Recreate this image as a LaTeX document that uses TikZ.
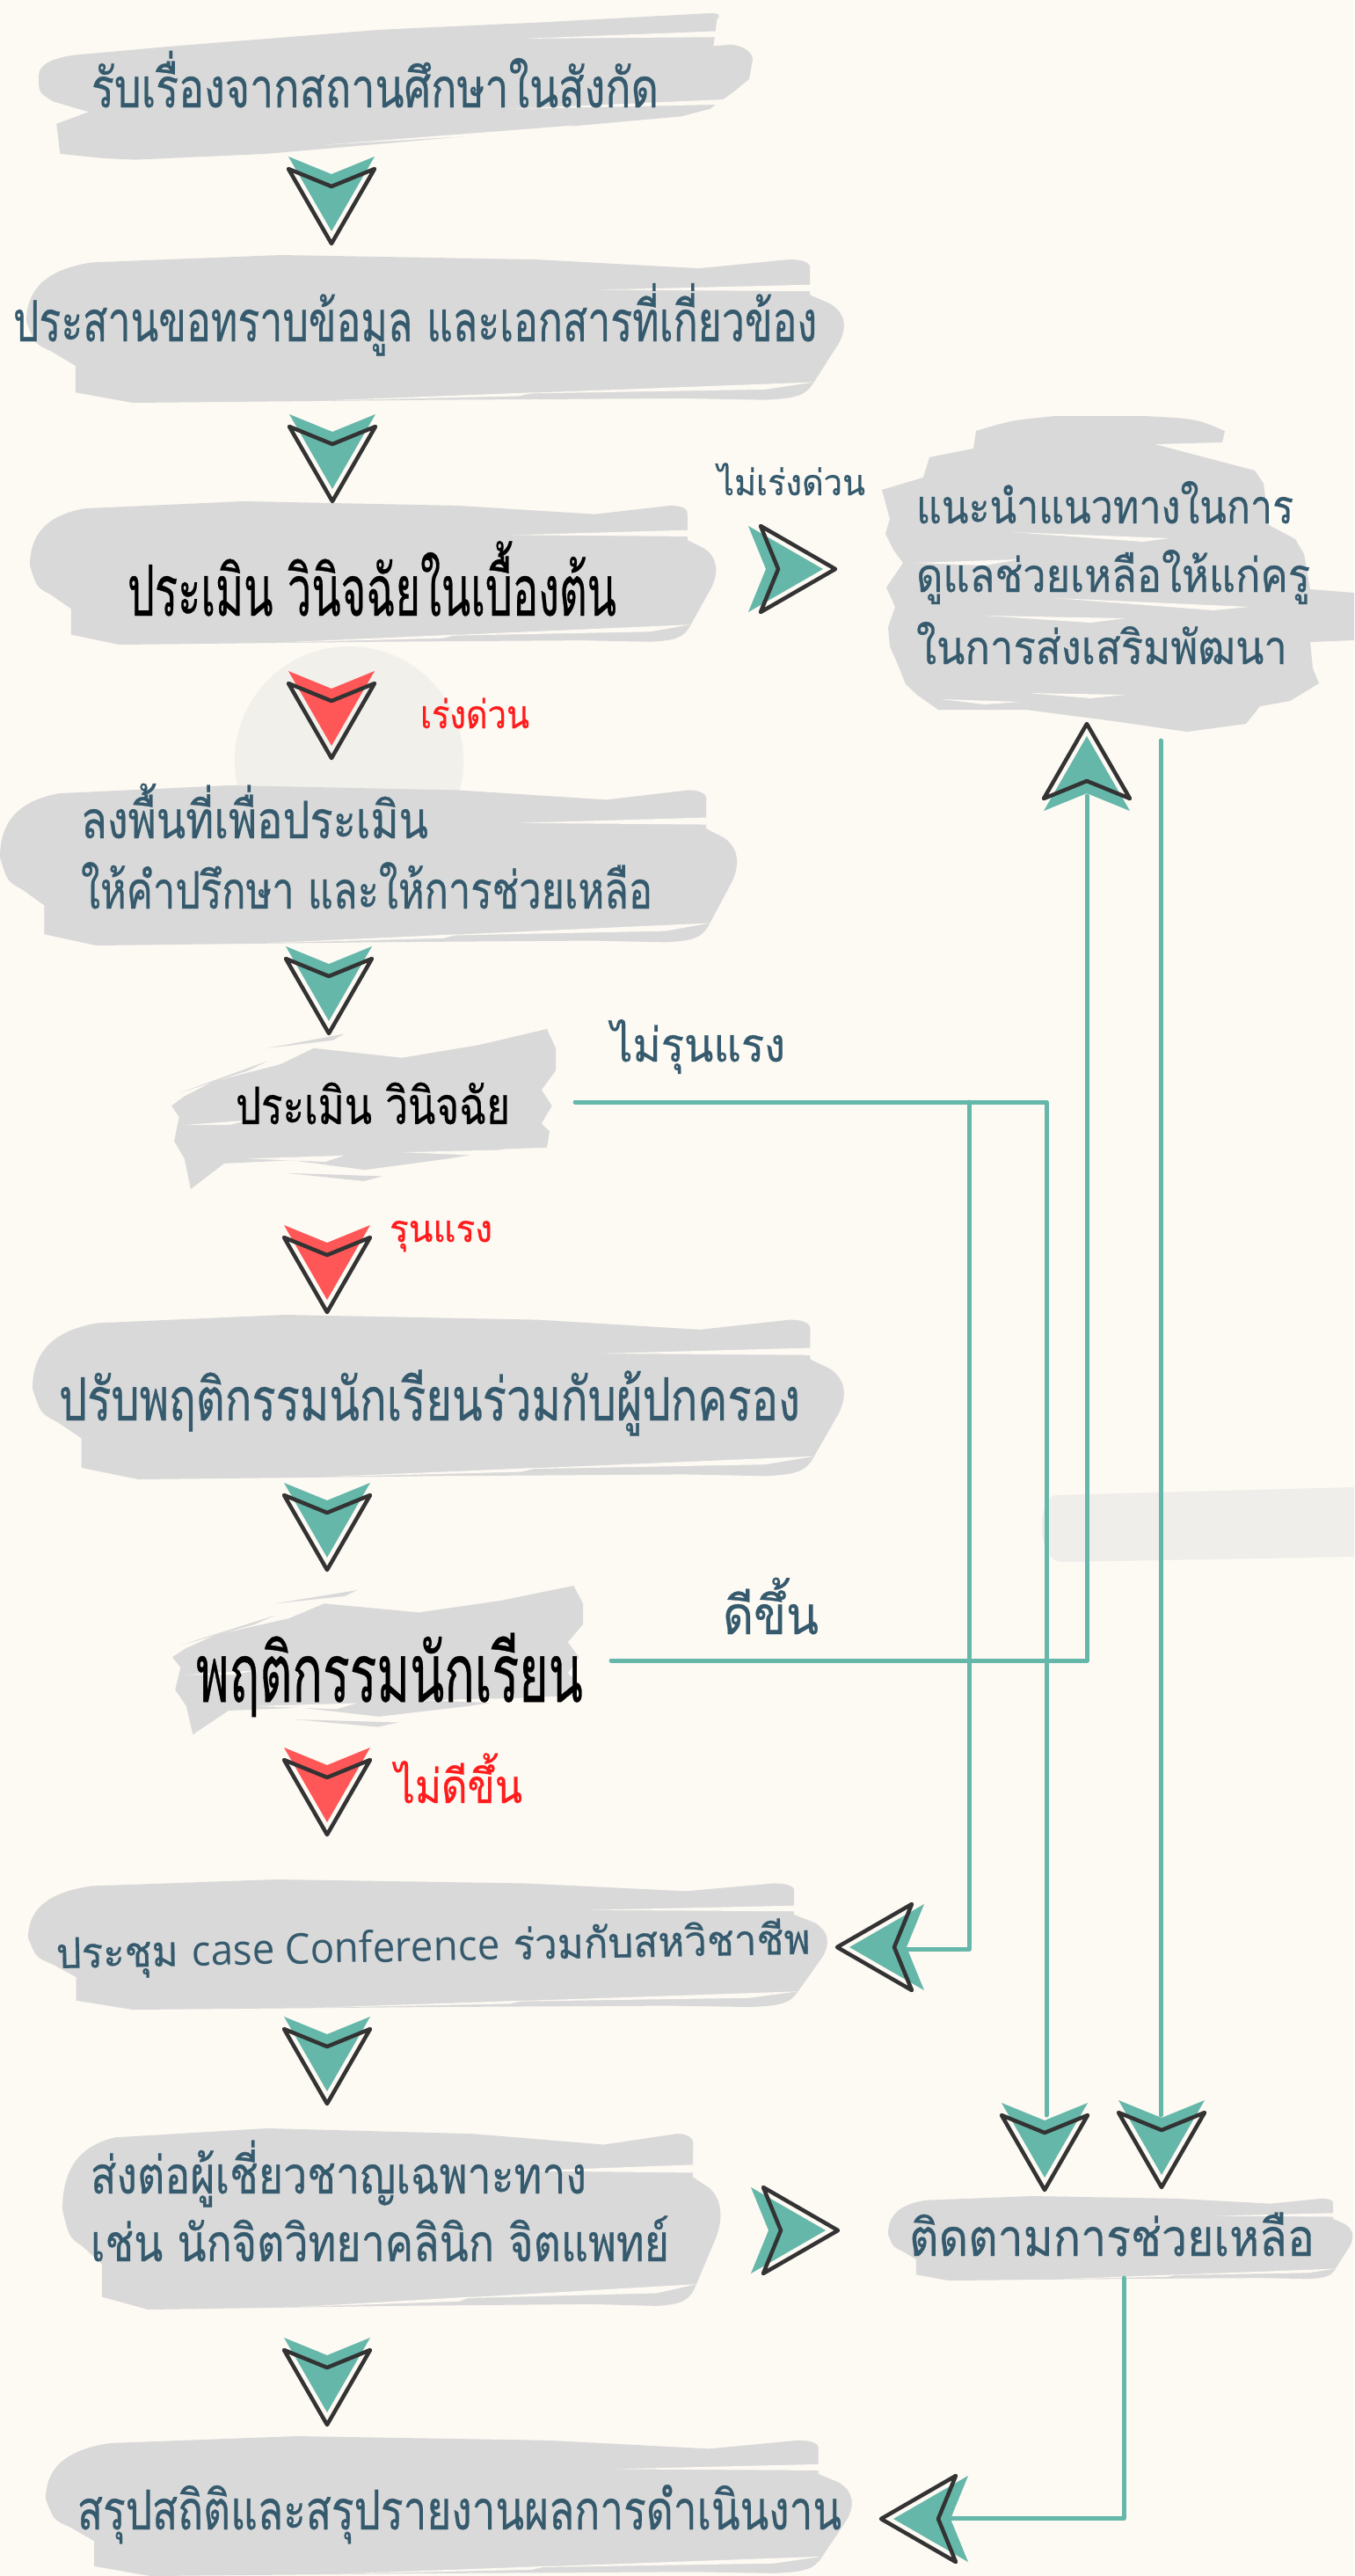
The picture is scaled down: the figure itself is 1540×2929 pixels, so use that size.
\documentclass[tikz,border=0pt]{standalone}
\usepackage{fontspec}
\usepackage{graphicx}
\setmainfont[Script=Thai, FakeBold=0.5]{Loma}
\newfontfamily\latinf{Open Sans}
\definecolor{bgc}{HTML}{FDF9F3}
\definecolor{brushgray}{HTML}{D9D9D9}
\definecolor{tealc}{HTML}{65B7AA}
\definecolor{darkc}{HTML}{333333}
\definecolor{ink}{HTML}{355A6D}
\definecolor{redfill}{HTML}{FF5757}
\definecolor{redtxt}{HTML}{FF1C1C}
\definecolor{circc}{HTML}{F1F0EB}
\definecolor{stripec}{HTML}{EFEEEA}
\newlength\consH
\AtBeginDocument{\settoheight\consH{\fontsize{100pt}{100pt}\selectfont น}}
\newcommand\bodysize[1]{\pgfmathsetmacro\fsz{100*#1/\consH}\fontsize{\fsz pt}{\fsz pt}\selectfont}
\newcommand\fitw[3]{\resizebox{#1pt}{\height}{\bodysize{#2}#3}}
% horizontal stroke, slanted (template A)
\newcommand\brushA[4]{%
\begin{scope}[shift={(#1,#2)}, xscale={#3-#1}, yscale={#4-#2}]
 \fill[brush] (0,0.42) .. controls (0,0.34) and (0.02,0.3) .. (0.05,0.28) -- (0.19,0.22) -- (0.48,0.11) -- (0.71,0.06) -- (0.94,0) .. controls (0.955,0) and (0.955,0.02) .. (0.95,0.04) -- (0.945,0.22) -- (0.97,0.21) .. controls (0.99,0.22) and (1,0.27) .. (1,0.31) -- (0.995,0.44) -- (0.975,0.52) -- (0.94,0.64) -- (0.9,0.69) -- (0.76,0.75) -- (0.56,0.84) -- (0.32,0.94) -- (0.135,0.98) -- (0.09,0.97) -- (0.03,0.94) -- (0.025,0.74) -- (0.07,0.66) -- (0.02,0.59) .. controls (0,0.53) .. cycle;
 \fill[streak] (0.68,0.17) -- (0.95,0.12) -- (0.95,0.16) -- cycle;
 \fill[streak] (0.66,0.64) -- (0.99,0.57) -- (0.97,0.61) -- cycle;
 \fill[streak] (0.40,0.88) -- (0.75,0.75) -- (0.72,0.79) -- cycle;
\end{scope}}
% horizontal stroke (template B)
\newcommand\brushB[4]{%
\begin{scope}[shift={(#1,#2)}, xscale={#3-#1}, yscale={#4-#2}]
 \fill[brush] (0,0.45) .. controls (0,0.25) and (0.02,0.1) .. (0.08,0.05) -- (0.31,0) -- (0.62,0.03) -- (0.82,0.09) -- (0.93,0.03) .. controls (0.95,0.03) and (0.957,0.06) .. (0.955,0.1) -- (0.955,0.2) -- (0.955,0.27) -- (0.98,0.33) .. controls (1,0.4) and (1,0.5) .. (0.99,0.6) -- (0.96,0.86) .. controls (0.95,0.95) and (0.94,0.97) .. (0.9,0.98) -- (0.8,0.97) -- (0.5,0.98) -- (0.13,1) -- (0.06,0.93) -- (0.06,0.75) -- (0.03,0.65) .. controls (0.01,0.6) .. cycle;
 \fill[streak] (0.70,0.235) -- (0.96,0.20) -- (0.96,0.245) -- cycle;
 \fill[streak] (0.58,0.94) -- (0.96,0.86) -- (0.9,0.91) -- cycle;
 \fill[streak] (0.36,0.985) -- (0.62,0.93) -- (0.6,0.955) -- cycle;
\end{scope}}
% ragged block (template R)
\newcommand\brushR[4]{%
\begin{scope}[shift={(#1,#2)}, xscale={#3-#1}, yscale={#4-#2}]
 \fill[brush] (0.977,0) -- (1,0.12) -- (1,0.26) -- (0.963,0.38) -- (0.99,0.48) -- (0.963,0.59) -- (0.984,0.64) -- (0.977,0.74) -- (0.867,0.75) -- (0.72,0.81) -- (0.503,0.88) -- (0.313,0.82) -- (0.137,0.84) -- (0.05,1) -- (0.034,0.81) -- (0.007,0.7) -- (0.02,0.55) -- (0,0.48) -- (0.034,0.42) -- (0.107,0.33) -- (0.284,0.22) -- (0.37,0.12) -- (0.6,0.18) -- (0.8,0.1) -- cycle;
 \fill[streak] (0.6,0.77) -- (0.86,0.755) -- (0.8,0.79) -- cycle;
 \fill[streak] (0.2,0.81) -- (0.45,0.79) -- (0.4,0.83) -- cycle;
 \fill[streak] (0.03,0.6) -- (0.2,0.57) -- (0.15,0.6) -- cycle;
 \fill[brush] (0.25,0.12) -- (0.45,0.03) -- (0.42,0.07) -- cycle;
 \fill[brush] (0.02,0.4) -- (0.25,0.2) -- (0.2,0.26) -- cycle;
 \fill[brush] (0.3,0.9) -- (0.55,0.92) -- (0.5,0.95) -- cycle;
\end{scope}}
\begin{document}
\begin{tikzpicture}[x=1pt, y=-1pt,
 brush/.style={fill=brushgray},
 streak/.style={fill=bgc},
 txt/.style={anchor=base west, inner sep=0pt, outer sep=0pt},
 link/.style={draw=tealc, line width=5pt, line cap=round, line join=round},
 outl/.style={draw=darkc, line width=4.5pt, line join=round},
 chev/.pic={
   \fill[pic actions] (-49,0) -- (0,20) -- (49,0) -- (0,85) -- cycle;
   \draw[outl] (-49,14) -- (0,34) -- (49,14) -- (0,99) -- cycle;
 }]
\fill[bgc] (0,0) rectangle (1540,2929);
\useasboundingbox (0,0) rectangle (1540,2929);
% faint decorations
\fill[circc] (397,865) circle[radius=130];
\fill[stripec] (1200,1700) .. controls (1180,1705) and (1178,1770) .. (1205,1776) -- (1540,1770) -- (1540,1691) -- cycle;
% brushes
\brushA{44}{15}{856}{185}
\brushB{30}{290}{963}{458}
\brushB{34}{570}{817}{733}
% large ragged blob on the right
\fill[brush] (1110,490) .. controls (1150,478) .. (1200,473) -- (1300,473) .. controls (1360,476) .. (1393,490) -- (1390,503) -- (1313,505) -- (1427,535) -- (1437,550) -- (1443,597) -- (1473,613) -- (1483,630) -- (1490,670) -- (1540,674) -- (1540,728) -- (1490,730) -- (1493,760) -- (1500,777) -- (1467,797) -- (1433,803) -- (1417,823) -- (1350,832) -- (1267,820) -- (1167,807) -- (1067,807) -- (1043,790) -- (1030,778) -- (1020,753) -- (1012,735) -- (1010,713) -- (1018,690) -- (1008,668) -- (1027,640) -- (1016,625) -- (1007,607) -- (1012,590) -- (1003,557) -- (1050,543) -- (1057,520) -- (1107,510) -- cycle;
\fill[streak] (1150,605) -- (1330,612) -- (1300,616) -- cycle;
\fill[streak] (1040,640) -- (1160,636) -- (1120,643) -- cycle;
\fill[streak] (1200,680) -- (1420,690) -- (1380,694) -- cycle;
\fill[streak] (1120,700) -- (1280,703) -- (1240,708) -- cycle;
\fill[streak] (1170,788) -- (1280,790) -- (1240,794) -- cycle;
\fill[streak] (1070,795) -- (1160,798) -- (1120,801) -- cycle;
\brushB{0}{893}{841}{1075}
\brushR{195}{1170}{632}{1352}
\brushB{37}{1495}{963}{1682}
\brushR{196}{1803}{663}{1972}
\brushB{32}{2137}{944}{2285}
\brushB{71}{2420}{822}{2626}
\brushB{1010}{2497}{1540}{2593}
\brushB{52}{2770}{972}{2929}
% texts
\node[txt, text=ink] (t1) at (104,122) {\fitw{645}{35}{รับเรื่องจากสถานศึกษาในสังกัด}};
\node[txt, text=ink] (t2) at (15,388) {\fitw{914}{36}{ประสานขอทราบข้อมูล และเอกสารที่เกี่ยวข้อง}};
\node[txt, text=black] (t3) at (145,700) {\fitw{556}{45}{ประเมิน วินิจฉัยในเบื้องต้น}};
\node[txt, text=ink] (l1) at (816,563) {\fitw{168}{23}{ไม่เร่งด่วน}};
\node[txt, text=ink] (t4a) at (1042,595) {\fitw{429}{30}{แนะนำแนวทางในการ}};
\node[txt, text=ink] (t4b) at (1042,673) {\fitw{448}{30}{ดูแลช่วยเหลือให้แก่ครู}};
\node[txt, text=ink] (t4c) at (1042,755) {\fitw{422}{30}{ในการส่งเสริมพัฒนา}};
\node[txt, text=redtxt] (l2) at (478,828) {\fitw{124}{25}{เร่งด่วน}};
\node[txt, text=ink] (t5a) at (92,953) {\fitw{395}{33}{ลงพื้นที่เพื่อประเมิน}};
\node[txt, text=ink] (t5b) at (92,1033) {\fitw{650}{33}{ให้คำปรึกษา และให้การช่วยเหลือ}};
\node[txt, text=black] (t6) at (268,1278) {\fitw{312}{33}{ประเมิน วินิจฉัย}};
\node[txt, text=ink] (l3) at (695,1207) {\fitw{198}{30}{ไม่รุนแรง}};
\node[txt, text=redtxt] (l4) at (443,1412) {\fitw{117}{24}{รุนแรง}};
\node[txt, text=ink] (t7) at (67,1615) {\fitw{843}{38}{ปรับพฤติกรรมนักเรียนร่วมกับผู้ปกครอง}};
\node[txt, text=black] (t8) at (223,1935) {\fitw{440}{52}{พฤติกรรมนักเรียน}};
\node[txt, text=ink] (l5) at (822,1858) {\fitw{109}{34}{ดีขึ้น}};
\node[txt, text=redtxt] (l6) at (449,2050) {\fitw{145}{30}{ไม่ดีขึ้น}};
\node[txt, text=ink, rotate=1.1] (t9) at (64,2238) {\fitw{858}{27}{ประชุม {\latinf case Conference} ร่วมกับสหวิชาชีพ}};
\node[txt, text=ink] (t10a) at (103,2494) {\fitw{564}{33}{ส่งต่อผู้เชี่ยวชาญเฉพาะทาง}};
\node[txt, text=ink] (t10b) at (103,2571) {\fitw{658}{33}{เช่น นักจิตวิทยาคลินิก จิตแพทย์}};
\node[txt, text=ink] (t11) at (1034,2565) {\fitw{461}{33}{ติดตามการช่วยเหลือ}};
\node[txt, text=ink] (t12) at (88,2876) {\fitw{869}{35}{สรุปสถิติและสรุปรายงานผลการดำเนินงาน}};
% connectors
\coordinate (sev0) at (654,1253);
\coordinate (brk) at (1102,1253);
\coordinate (dnA) at (1190,2405);
\coordinate (lA) at (1032,2216);
\coordinate (imp0) at (695,1888);
\coordinate (upA) at (1236,905);
\coordinate (g0) at (1320,842);
\coordinate (dnB) at (1320,2405);
\coordinate (f0) at (1278,2590);
\coordinate (lB) at (1081,2863);
\draw[link] (sev0) -| (dnA);
\draw[link] (brk) |- (lA);
\draw[link] (imp0) -| (upA);
\draw[link] (g0) -- (dnB);
\draw[link] (f0) |- (lB);
% arrows
\pic[fill=tealc] (a1) at (377,178) {chev};
\pic[fill=tealc] (a2) at (378,471) {chev};
\pic[fill=redfill] (a3) at (377,763) {chev};
\pic[fill=tealc] (a4) at (374,1076) {chev};
\pic[fill=redfill] (a5) at (372,1393) {chev};
\pic[fill=tealc] (a6) at (372,1686) {chev};
\pic[fill=redfill] (a7) at (372,1987) {chev};
\pic[fill=tealc] (a8) at (372,2293) {chev};
\pic[fill=tealc] (a9) at (372,2658) {chev};
\pic[fill=tealc] (a10) at (1188,2391) {chev};
\pic[fill=tealc] (a11) at (1321,2388) {chev};
\pic[fill=tealc, rotate=90] (r1) at (851,647) {chev};
\pic[fill=tealc, rotate=90] (r2) at (854,2536) {chev};
\pic[fill=tealc, rotate=180] (u1) at (1236,922) {chev};
\pic[fill=tealc, rotate=-90] (lf1) at (1051,2214) {chev};
\pic[fill=tealc, rotate=-90] (lf2) at (1101,2864) {chev};
\end{tikzpicture}
\end{document}
